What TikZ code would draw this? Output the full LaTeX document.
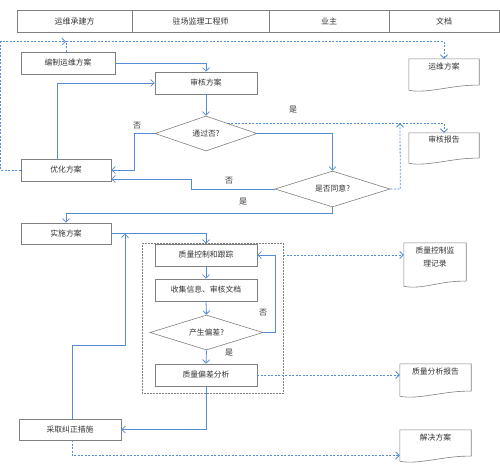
\documentclass[tikz,border=0pt]{standalone}
\usepackage{fontspec}
\setmainfont{Noto Sans CJK SC}
\usetikzlibrary{arrows.meta,shapes.geometric,calc}

\definecolor{flowblue}{RGB}{84,141,212}
\definecolor{boxgray}{RGB}{128,128,128}

\tikzset{
  stepbox/.style={draw=boxgray, line width=0.6pt, minimum width=102pt, minimum height=22pt,
    inner sep=0pt, font=\fontsize{7.8}{8}\selectfont, text=black!80},
  headbox/.style={stepbox, minimum height=22pt, font=\fontsize{8}{8}\selectfont},
  askbox/.style={stepbox, shape=diamond, shape aspect=3, minimum width=102pt, minimum height=35pt},
  docbox/.style={inner sep=0pt, font=\fontsize{7.8}{13}\selectfont, text=black!80, align=center},
  docline/.style={draw=boxgray, line width=0.6pt},
  grpbox/.style={draw=boxgray, densely dotted, line width=0.5pt, inner sep=0pt},
  flow/.style={draw=flowblue, line width=0.8pt, -{Straight Barb[length=3.5pt,width=7pt]}},
  flowline/.style={draw=flowblue, line width=0.8pt},
  dflow/.style={flow, dash pattern=on 2pt off 1.5pt},
  dflowline/.style={flowline, dash pattern=on 2pt off 1.5pt},
  tag/.style={font=\fontsize{8}{8}\selectfont, text=black!80, inner sep=1pt}
}

\begin{document}
\begin{tikzpicture}[x=1pt, y=-1pt]
  \useasboundingbox (0,0) rectangle (500,466);

  % -- Header row --
  \node[headbox, minimum width=115pt] (h1) at (74.5,21) {运维承建方};
  \node[headbox, minimum width=137pt] (h2) at (200.5,21) {驻场监理工程师};
  \node[headbox, minimum width=120pt] (h3) at (329,21) {业主};
  \node[headbox, minimum width=110pt] (h4) at (444,21) {文档};

  % -- Plan stage --
  \node[stepbox, minimum width=94pt] (bianzhi) at (68,63) {编制运维方案};
  \node[stepbox] (shenhe) at (206,83) {审核方案};
  \node[askbox] (tongguo) at (206,133.5) {通过否?};
  \node[stepbox, minimum width=90pt] (youhua) at (66,170) {优化方案};
  \node[askbox, minimum width=115pt, minimum height=36pt] (tongyi) at (332.5,189) {是否同意?};
  \node[stepbox, minimum width=90pt, minimum height=21pt] (shishi) at (66,233.5) {实施方案};

  % -- Quality control loop --
  \node[grpbox, minimum width=141pt, minimum height=150pt] (grp) at (212.5,318) {};
  \node[stepbox] (kongzhi) at (206,255) {质量控制和跟踪};
  \node[stepbox] (shouji) at (206,290) {收集信息、审核文档};
  \node[askbox, minimum width=113pt] (piancha) at (206.5,332.5) {产生偏差?};
  \node[stepbox] (fenxi) at (206,375) {质量偏差分析};
  \node[stepbox, minimum height=21pt] (caiqu) at (70,429.5) {采取纠正措施};

  % -- Documents --
  \node[docbox, minimum width=70pt, minimum height=31pt] (d1) at (444,74.5) {运维方案\\[4pt]};
  \node[docbox, minimum width=70pt, minimum height=30pt] (d2) at (444,148) {审核报告\\[4pt]};
  \node[docbox, minimum width=62pt, minimum height=43pt] (d3) at (435,264.5) {质量控制监\\理记录\\[2pt]};
  \node[docbox, minimum width=71pt, minimum height=32pt] (d4) at (435.5,380) {质量分析报告\\[4pt]};
  \node[docbox, minimum width=71pt, minimum height=31pt] (d5) at (435.5,445.5) {解决方案\\[4pt]};
  \foreach \d in {d1,d2,d3,d4,d5} {
    \draw[docline] ([yshift=5pt]\d.south east) -- (\d.north east) -- (\d.north west) -- (\d.south west)
      .. controls +(18,4) and +(-25,-1) .. ([yshift=5pt]\d.south east);
  }

  % -- Solid flow --
  \draw[flow] (bianzhi.east) -| (shenhe.north);
  \draw[flow] ([xshift=-9pt]youhua.north) |- (shenhe.west);
  \draw[flow] (shenhe.south) -- (tongguo.north);
  \draw[flow] (tongguo.west) -- ++(-20,0) |- (youhua.east);
  \draw[flow] (tongguo.east) -| (tongyi.north);
  \draw[flow] (tongyi.west) -- ++(-83,0) |- ([yshift=-9pt]youhua.east);
  \draw[flow] (tongyi.south) -- ++(0,6) -| (shishi.north);
  \draw[flow] (shishi.east) -| (kongzhi.north);
  \draw[flow] (kongzhi.south) -- (shouji.north);
  \draw[flow] (shouji.south) -- (piancha.north);
  \draw[flow] (piancha.east) -- ++(12,0) |- (kongzhi.east);
  \draw[flow] (piancha.south) -- (fenxi.north);
  \draw[flow] (fenxi.south) |- (caiqu.east);
  \coordinate (back) at (125,233.5);
  \coordinate (bend) at (72,345);
  \draw[flow] ([xshift=2pt]caiqu.north) -- (bend) -| (back);

  % -- Dashed document flow --
  \coordinate (jtop) at ($(bianzhi.north)+(-2,-10)$);
  \draw[dflow] (youhua.west) -- ++(-20,0) |- (jtop);
  \draw[dflowline] ([xshift=-2pt]bianzhi.north) -- (jtop);
  \draw[dflow] (jtop) -| (d1.north);
  \coordinate (jrep) at ($(tongguo.north)!0.42!(tongguo.east)$);
  \draw[dflow] (jrep) -| (d2.north);
  \coordinate (jup) at (400,0);
  \draw[dflow] (tongyi.east) -- ++(10,0) -- (jup |- jrep);
  \draw[dflow] (grp.east |- kongzhi.east) -- (d3.west |- kongzhi.east);
  \draw[dflow] (fenxi.east) -- (fenxi.east -| d4.west);
  \draw[dflow] ([xshift=2pt]caiqu.south) |- ([yshift=-10pt]d5.west);

  % -- Branch tags --
  \node[tag] (yes1) at (293,110) {是};
  \node[tag] (no1) at (137,126) {否};
  \node[tag] (no2) at (229,181) {否};
  \node[tag] (yes2) at (243,202) {是};
  \node[tag] (no3) at (263,313) {否};
  \node[tag] (yes3) at (229,353) {是};

\end{tikzpicture}
\end{document}
